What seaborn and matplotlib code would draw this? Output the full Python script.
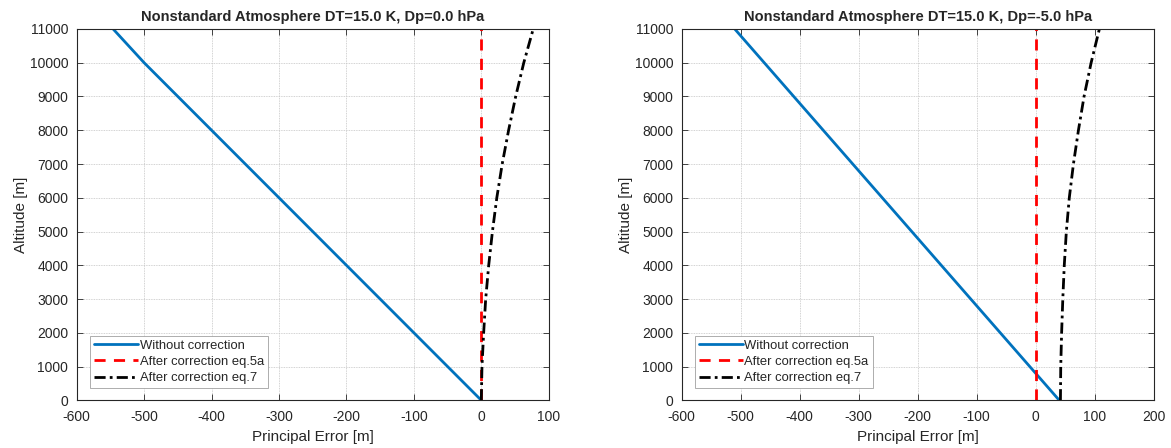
import numpy as np
import pandas as pd
import matplotlib
matplotlib.use("Agg")
import matplotlib.pyplot as plt
import seaborn as sns

# высоты, м
altitude = [0, 1000, 2000, 3000, 4000, 5000, 6000, 7000, 8000, 9000, 10000, 11000]

# DT=15 K, Dp=0 hPa
err_raw_1 = [0, -50, -100, -150, -200, -250, -300, -350, -400, -450, -500, -546]
err_5a_1 = [0, 0, 0, 0, 0, 0, 0, 0, 0, 0, 0, 0]
err_7_1 = [0, 1, 3.5, 6.5, 11, 16.5, 23, 31, 40.5, 51, 63, 77]

# DT=15 K, Dp=-5 hPa
err_raw_2 = [40, -10, -60, -110, -160, -210, -260, -310, -360, -410, -460, -510]
err_5a_2 = [1, 1, 1, 1, 1, 1, 1, 1, 1, 1, 1, 1]
err_7_2 = [42, 42.5, 44, 46, 48.5, 52, 57, 64, 72.5, 82, 94, 108]

titles = ["Nonstandard Atmosphere DT=15.0 K, Dp=0.0 hPa",
          "Nonstandard Atmosphere DT=15.0 K, Dp=-5.0 hPa"]
xlims = [(-600, 100), (-600, 200)]
labels = ["Without correction", "After correction eq.5a", "After correction eq.7"]

sns.set_theme(style="white")
plt.rcParams['font.family'] = ['Liberation Sans', 'DejaVu Sans']
plt.rcParams['axes.unicode_minus'] = False

fig = plt.figure(figsize=(11.71, 4.48), dpi=100)
ax1 = fig.add_axes([0.0655, 0.1065, 0.4031, 0.8288])
ax2 = fig.add_axes([0.5821, 0.1065, 0.4031, 0.8288])

panels = [(ax1, err_raw_1, err_5a_1, err_7_1), (ax2, err_raw_2, err_5a_2, err_7_2)]
frame_col = "#262626"

for i, (ax, raw, c5a, c7) in enumerate(panels):
    df = pd.DataFrame({"alt": altitude, "raw": raw, "c5a": c5a, "c7": c7})
    sns.lineplot(data=df, x="raw", y="alt", sort=False, estimator=None, ax=ax,
                 color="#0072BD", lw=2, label=labels[0])
    sns.lineplot(data=df, x="c5a", y="alt", sort=False, estimator=None, ax=ax,
                 color="#FF0000", lw=2, label=labels[1])
    sns.lineplot(data=df, x="c7", y="alt", sort=False, estimator=None, ax=ax,
                 color="black", lw=2, label=labels[2])
    ax.lines[1].set_linestyle((0, (4, 3)))
    ax.lines[2].set_linestyle((0, (4, 1.5, 1, 1.5)))

    ax.set_xlim(*xlims[i])
    ax.set_ylim(0, 11000)
    ax.set_xticks(np.arange(xlims[i][0], xlims[i][1] + 1, 100))
    ax.set_yticks(np.arange(0, 11001, 1000))
    ax.grid(True, color="#c4c4c4", linestyle=(0, (1, 1)), linewidth=0.6)
    ax.tick_params(direction="in", length=4, width=0.6, colors=frame_col,
                   labelsize=10, top=True, right=True, bottom=True, left=True,
                   labelcolor=frame_col)
    ax.tick_params(axis="x", pad=7)
    ax.tick_params(axis="y", pad=6)
    for s in ax.spines.values():
        s.set_color(frame_col)
        s.set_linewidth(0.8)
    ax.set_title(titles[i], fontsize=10.5, fontweight="bold", pad=6)
    ax.set_xlabel("Principal Error [m]", fontsize=11, labelpad=4)
    ax.set_ylabel("Altitude [m]", fontsize=11, labelpad=1)
    leg = ax.legend(loc="lower left", bbox_to_anchor=(0.028, 0.033), fontsize=9.4,
                    fancybox=False, framealpha=1, edgecolor="#a0a0a0",
                    handlelength=3.4, handletextpad=0.1, borderpad=0.3,
                    labelspacing=0.3, borderaxespad=0)
    leg.get_frame().set_linewidth(0.6)

fig.savefig("out.png", dpi=100)
